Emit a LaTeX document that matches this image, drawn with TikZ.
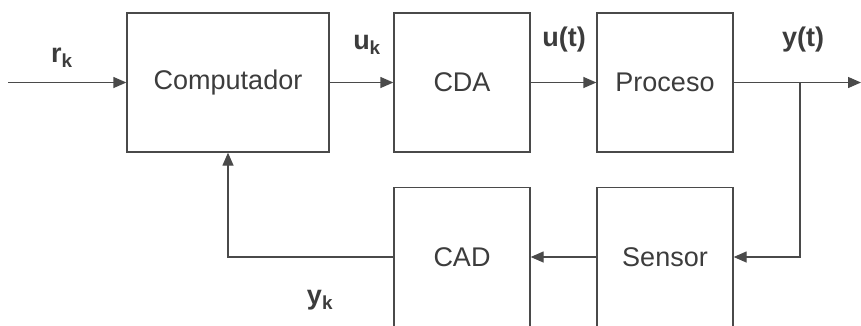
\documentclass[tikz,border=0pt]{standalone}
\usepackage{fontspec}
\setmainfont{Liberation Sans}
\usetikzlibrary{arrows.meta}
\definecolor{ink}{HTML}{4A4A4A}
\definecolor{txt}{HTML}{3C3C3C}
\begin{document}
\begin{tikzpicture}[x=1pt,y=-1pt,
  blk/.style={draw=ink,line width=1.3pt,minimum width=#1,minimum height=139pt,inner sep=0pt,text=txt,font=\fontsize{27}{32}\selectfont},
  arr/.style={draw=ink,line width=1.3pt,-{Triangle[length=13pt,width=11pt]}},
  lbl/.style={text=txt,font=\fontsize{27}{32}\selectfont\bfseries,inner sep=0pt}]
\useasboundingbox (0,0) rectangle (861,325);
\clip (0,0) rectangle (861,325);
\node[blk=202pt] (comp) at (228,82.5) {Computador};
\node[blk=136pt] (cda) at (462,82.5) {CDA};
\node[blk=136pt] (proc) at (665,82.5) {Proceso};
\node[blk=136pt] (sens) at (665,257) {Sensor};
\node[blk=136pt] (cad) at (462,257) {CAD};
\coordinate (in) at (8,82.5);
\coordinate (out) at (861,82.5);
\coordinate (br) at (800,82.5);
\draw[arr] (in) -- (comp.west);
\draw[arr] (comp.east) -- (cda.west);
\draw[arr] (cda.east) -- (proc.west);
\draw[arr] (proc.east) -- (out);
\draw[arr] (br) |- (sens.east);
\draw[arr] (sens.west) -- (cad.east);
\draw[arr] (cad.west) -| (comp.south);
\node[lbl] (rk) at (62,58) {r\textsubscript{k}};
\node[lbl] (uk) at (367,45) {u\textsubscript{k}};
\node[lbl] (ut) at (564,40) {u(t)};
\node[lbl] (yt) at (803,40) {y(t)};
\node[lbl] (yk) at (320,300) {y\textsubscript{k}};
\end{tikzpicture}
\end{document}
